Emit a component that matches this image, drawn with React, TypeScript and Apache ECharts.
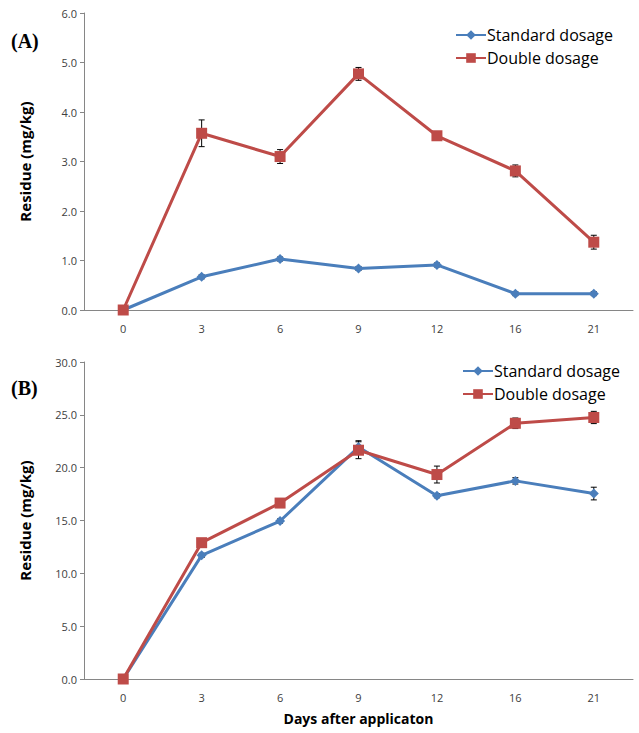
import React, { useEffect, useRef } from "react";
import * as echarts from "echarts";

const days = ["0", "3", "6", "9", "12", "16", "21"];
const aStandard = [0, 0.67, 1.03, 0.84, 0.91, 0.33, 0.33];
const aStandardErr = [0, 0.04, 0.04, 0.04, 0.04, 0.04, 0.04];
const aDouble = [0, 3.57, 3.1, 4.77, 3.52, 2.81, 1.37];
const aDoubleErr = [0, 0.27, 0.14, 0.13, 0.05, 0.12, 0.14];
const bStandard = [0, 11.7, 14.95, 21.95, 17.35, 18.75, 17.55];
const bStandardErr = [0, 0.2, 0.2, 0.6, 0.2, 0.3, 0.6];
const bDouble = [0, 12.9, 16.65, 21.65, 19.35, 24.2, 24.75];
const bDoubleErr = [0, 0.3, 0.3, 0.8, 0.8, 0.5, 0.58];

const BLUE = "#4a7ebb";
const RED = "#be4b48";
const AXIS = "#868686";
const LABEL = "#404040";

function errSeries(idx: number, vals: number[], errs: number[]) {
  return {
    type: "custom",
    xAxisIndex: idx,
    yAxisIndex: idx,
    silent: true,
    z: 2,
    data: vals.map((v, i) => [i, v - errs[i], v + errs[i]]),
    renderItem: (params: any, api: any) => {
      const x = api.value(0);
      const lo = api.coord([x, api.value(1)]);
      const hi = api.coord([x, api.value(2)]);
      const w = 3;
      const st = { stroke: "#000", lineWidth: 1 };
      return {
        type: "group",
        children: [
          { type: "line", shape: { x1: lo[0], y1: lo[1], x2: hi[0], y2: hi[1] }, style: st },
          { type: "line", shape: { x1: lo[0] - w, y1: lo[1], x2: lo[0] + w, y2: lo[1] }, style: st },
          { type: "line", shape: { x1: hi[0] - w, y1: hi[1], x2: hi[0] + w, y2: hi[1] }, style: st },
        ],
      };
    },
  };
}

function lineSeries(idx: number, name: string, vals: number[], color: string, symbol: string, size: number) {
  return {
    type: "line",
    name,
    xAxisIndex: idx,
    yAxisIndex: idx,
    data: vals,
    symbol,
    symbolSize: size,
    z: 3,
    lineStyle: { color, width: 3 },
    itemStyle: { color },
  };
}

export default function App() {
  const ref = useRef<HTMLDivElement>(null);
  useEffect(() => {
    document.body.style.margin = "0";
    const chart = echarts.init(ref.current!, null, { renderer: "svg" });
    const font = "Open Sans, Noto Sans, sans-serif";
    const xAxis = (gi: number, withName: boolean) => ({
      type: "category",
      gridIndex: gi,
      data: days,
      boundaryGap: true,
      axisLine: { lineStyle: { color: AXIS, width: 1 } },
      axisTick: { length: 5, lineStyle: { color: AXIS } },
      axisLabel: { color: LABEL, fontSize: 11, margin: 13, fontFamily: font },
      name: withName ? "Days after applicaton" : "",
      nameLocation: "middle",
      nameGap: 32,
      nameTextStyle: { fontSize: 14, fontWeight: "bold", color: "#000", fontFamily: font },
    });
    const yAxis = (gi: number, max: number, interval: number) => ({
      type: "value",
      gridIndex: gi,
      min: 0,
      max,
      interval,
      axisLine: { show: true, lineStyle: { color: AXIS, width: 1 } },
      axisTick: { show: true, length: 4, lineStyle: { color: AXIS } },
      splitLine: { show: false },
      axisLabel: {
        color: LABEL,
        fontSize: 11,
        margin: 7,
        fontFamily: font,
        formatter: (v: number) => v.toFixed(1),
      },
      name: "Residue (mg/kg)",
      nameLocation: "middle",
      nameRotate: 90,
      nameGap: 52,
      nameTextStyle: { fontSize: 15, fontWeight: "bold", color: "#000", fontFamily: font },
    });
    const legend = (top: number, left: number) => ({
      orient: "vertical",
      left,
      top,
      itemWidth: 30,
      itemHeight: 12,
      itemGap: 7,
      selectedMode: false,
      textStyle: { fontSize: 16, color: "#000", fontFamily: font, padding: [0, 0, 0, -4] },
      data: ["Standard dosage", "Double dosage"],
    });
    chart.setOption({
      animation: false,
      backgroundColor: "#fff",
      grid: [
        { left: 84, right: 6, top: 13, height: 297 },
        { left: 84, right: 6, top: 362, height: 317 },
      ],
      xAxis: [xAxis(0, false), xAxis(1, true)],
      yAxis: [yAxis(0, 6, 1), yAxis(1, 30, 5)],
      legend: [legend(22, 450), legend(358, 457)],
      graphic: [
        { type: "text", left: 11, top: 31, style: { text: "(A)", font: "bold 20px 'Liberation Serif', 'Times New Roman', serif", fill: "#000" } },
        { type: "text", left: 11, top: 378, style: { text: "(B)", font: "bold 20px 'Liberation Serif', 'Times New Roman', serif", fill: "#000" } },
      ],
      series: [
        errSeries(0, aStandard, aStandardErr),
        errSeries(0, aDouble, aDoubleErr),
        lineSeries(0, "Standard dosage", aStandard, BLUE, "diamond", 10),
        lineSeries(0, "Double dosage", aDouble, RED, "rect", 11),
        errSeries(1, bStandard, bStandardErr),
        errSeries(1, bDouble, bDoubleErr),
        lineSeries(1, "Standard dosage", bStandard, BLUE, "diamond", 10),
        lineSeries(1, "Double dosage", bDouble, RED, "rect", 11),
      ],
    });
    return () => chart.dispose();
  }, []);
  return <div ref={ref} style={{ width: 639, height: 733 }} />;
}
